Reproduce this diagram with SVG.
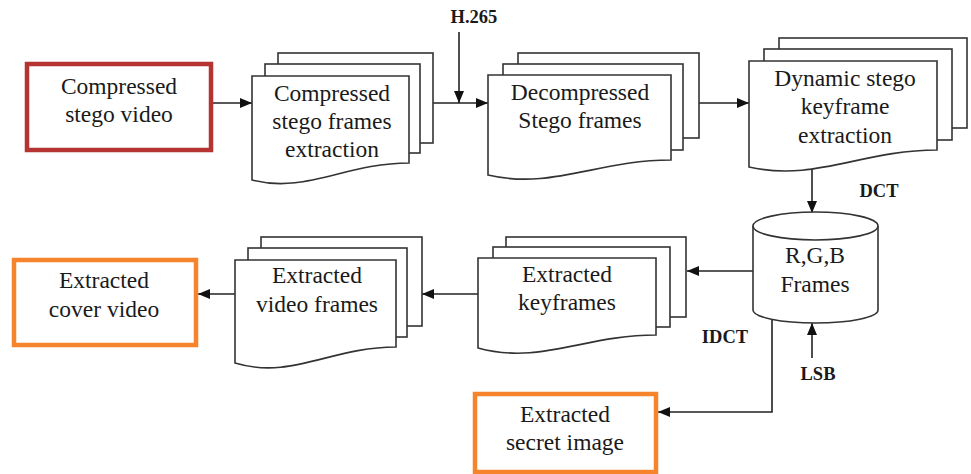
<svg xmlns="http://www.w3.org/2000/svg" width="971" height="474" viewBox="0 0 971 474">
  <style>
    .page { fill: #ffffff; stroke: #333333; stroke-width: 1.6; stroke-linejoin: miter; }
    .txt { font-family: "Liberation Serif", "Times New Roman", serif; font-size: 23.5px; fill: #1a1a1a; text-anchor: middle; }
    .lbl { font-family: "Liberation Serif", "Times New Roman", serif; font-size: 18.5px; font-weight: bold; fill: #1a1a1a; text-anchor: middle; }
    .conn { fill: none; stroke: #222222; stroke-width: 1.6; }
    .red { fill: #ffffff; stroke: #b53330; stroke-width: 4.5; }
    .orange { fill: #ffffff; stroke: #f5842c; stroke-width: 4.5; }
  </style>
  <defs>
    <marker id="arrow" viewBox="0 0 12 10" refX="12" refY="5" markerWidth="12" markerHeight="10" markerUnits="userSpaceOnUse" orient="auto">
      <path d="M0,0 L12,5 L0,10 Z" fill="#111111"/>
    </marker>
  </defs>

  <rect width="971" height="474" fill="#ffffff"/>

  <!-- connectors -->
  <g id="connectors">
    <line class="conn" x1="213" y1="103" x2="252" y2="103" marker-end="url(#arrow)"/>
    <line class="conn" x1="433" y1="103" x2="488" y2="103" marker-end="url(#arrow)"/>
    <line class="conn" x1="459" y1="32" x2="459" y2="103" marker-end="url(#arrow)"/>
    <line class="conn" x1="699" y1="103" x2="749" y2="103" marker-end="url(#arrow)"/>
    <line class="conn" x1="812" y1="168" x2="812" y2="213" marker-end="url(#arrow)"/>
    <line class="conn" x1="753" y1="271" x2="687" y2="271" marker-end="url(#arrow)"/>
    <line class="conn" x1="478" y1="294" x2="422" y2="294" marker-end="url(#arrow)"/>
    <line class="conn" x1="235" y1="294" x2="198" y2="294" marker-end="url(#arrow)"/>
    <line class="conn" x1="812" y1="358" x2="812" y2="323" marker-end="url(#arrow)"/>
    <polyline class="conn" points="772,320 772,412 658,412" marker-end="url(#arrow)"/>
    <text class="lbl" x="474" y="23">H.265</text>
    <text class="lbl" x="879" y="197">DCT</text>
    <text class="lbl" x="725" y="343">IDCT</text>
    <text class="lbl" x="818" y="380">LSB</text>
  </g>

  <!-- Compressed stego video -->
  <g id="compressed-stego-video">
    <rect class="red" x="27" y="64" width="184" height="86"/>
    <text class="txt" x="119" y="94">Compressed</text>
    <text class="txt" x="119" y="122">stego video</text>
  </g>

  <!-- Compressed stego frames extraction -->
  <g id="compressed-frames">
    <rect class="page" x="278" y="53" width="155" height="90"/>
    <rect class="page" x="265" y="64" width="155" height="89"/>
    <path class="page" d="M252,76 H409 V163 C346,163 305,194 252,180 Z"/>
    <text class="txt" x="332" y="101">Compressed</text>
    <text class="txt" x="332" y="129">stego frames</text>
    <text class="txt" x="332" y="157">extraction</text>
  </g>

  <!-- Decompressed stego frames -->
  <g id="decompressed-frames">
    <rect class="page" x="518" y="53" width="181" height="85"/>
    <rect class="page" x="503" y="64" width="180" height="86"/>
    <path class="page" d="M488,75 H671 V160 C598,160 552,190 488,175 Z"/>
    <text class="txt" x="580" y="100">Decompressed</text>
    <text class="txt" x="580" y="128">Stego frames</text>
  </g>

  <!-- Dynamic stego keyframe extraction -->
  <g id="dynamic-keyframe">
    <rect class="page" x="779" y="38" width="188" height="90"/>
    <rect class="page" x="764" y="49" width="188" height="91"/>
    <path class="page" d="M749,61 H937 V150 C862,150 815,182 749,167 Z"/>
    <text class="txt" x="845" y="86">Dynamic stego</text>
    <text class="txt" x="845" y="114">keyframe</text>
    <text class="txt" x="845" y="143">extraction</text>
  </g>

  <!-- R,G,B Frames store -->
  <g id="rgb-frames">
    <path class="page" d="M753,226 V310 A62.5,13 0 0 0 878,310 V226"/>
    <ellipse class="page" cx="815.5" cy="226" rx="62.5" ry="14"/>
    <text class="txt" x="815" y="263">R,G,B</text>
    <text class="txt" x="815" y="292">Frames</text>
  </g>

  <!-- Extracted keyframes -->
  <g id="extracted-keyframes">
    <rect class="page" x="506" y="237" width="180" height="80"/>
    <rect class="page" x="493" y="247" width="177" height="80"/>
    <path class="page" d="M478,258 H656 V335 C585,335 540,365 478,348 Z"/>
    <text class="txt" x="567" y="282">Extracted</text>
    <text class="txt" x="567" y="310">keyframes</text>
  </g>

  <!-- Extracted video frames -->
  <g id="extracted-video-frames">
    <rect class="page" x="261" y="237" width="161" height="89"/>
    <rect class="page" x="248" y="248" width="159" height="89"/>
    <path class="page" d="M235,260 H396 V347 C331,347 291,380 235,363 Z"/>
    <text class="txt" x="317" y="283">Extracted</text>
    <text class="txt" x="317" y="312">video frames</text>
  </g>

  <!-- Extracted cover video -->
  <g id="extracted-cover-video">
    <rect class="orange" x="14" y="260" width="182" height="85"/>
    <text class="txt" x="104" y="288">Extracted</text>
    <text class="txt" x="104" y="317">cover video</text>
  </g>

  <!-- Extracted secret image -->
  <g id="extracted-secret-image">
    <rect class="orange" x="475" y="394" width="181" height="78"/>
    <text class="txt" x="565" y="422">Extracted</text>
    <text class="txt" x="565" y="450">secret image</text>
  </g>
</svg>
